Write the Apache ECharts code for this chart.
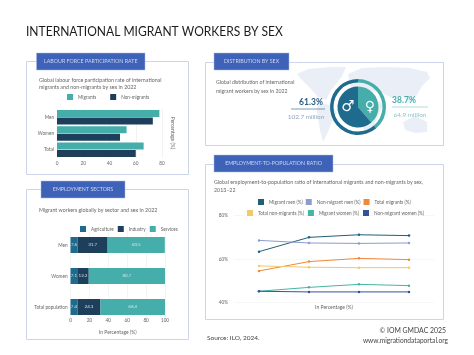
<!DOCTYPE html>
<html>
<head>
<meta charset="utf-8">
<style>
  html, body { margin: 0; padding: 0; background: #fff; }
  #chart { width: 474px; height: 355px; }
</style>
<script src="https://cdn.jsdelivr.net/npm/echarts@6/dist/echarts.min.js"></script>
</head>
<body>
<div id="chart"></div>
<script>
// labour force participation
const lfprCategories = ['Men', 'Women', 'Total']
const lfprMigrants = [78, 53, 66]
const lfprNonMigrants = [73, 48, 60]

// employment sectors
const sectorCategories = ['Men', 'Women', 'Total population']
const sectorAgriculture = [7.6, 7.1, 7.4]
const sectorIndustry = [31.7, 12.2, 24.3]
const sectorServices = [60.5, 80.7, 68.4]

// distribution by sex
const sexNames = ['Women', 'Men']
const sexShares = [38.7, 61.3]

// employment-to-population ratio (year labels are not printed in the picture)
const ratioYears = ['2013', '2016', '2019', '2022']
const migrantMen = [63.4, 70, 71.2, 70.8]
const nonMigrantMen = [68.6, 67.4, 67.2, 67.4]
const totalMigrants = [54.5, 58.8, 60.3, 59.7]
const totalNonMigrants = [56.8, 56.2, 56, 56]
const migrantWomen = [45.1, 46.9, 48.3, 47.7]
const nonMigrantWomen = [45.1, 44.8, 44.8, 44.8]

const FONT = 'Lato'
const TEAL = '#45aeaa'
const NAVY = '#1d3f5c'
const BLUE = '#1f6b8e'
const TAB = '#3f62b9'
const BORDER = '#ccd5ea'
const GREY = '#666'

const panel = (x, y, w, h) => ({
  type: 'rect',
  z: 1,
  shape: { x: x + 0.5, y: y + 0.5, width: w, height: h },
  style: { fill: 'none', stroke: BORDER, lineWidth: 1 },
})
const tab = (x, y, w, h, label) => [
  {
    type: 'rect',
    z: 5,
    shape: { x: x, y: y, width: w, height: h },
    style: { fill: TAB, stroke: '#a9bbe6', lineWidth: 0.5 },
  },
  {
    type: 'text',
    z: 6,
    x: x + w / 2,
    y: y + h / 2,
    style: {
      text: label,
      fill: '#c9d6f2',
      font: '5.3px ' + FONT,
      align: 'center',
      verticalAlign: 'middle',
    },
  },
]
const note = (x, y, text, size, fill, extra) => ({
  type: 'text',
  z: 6,
  x: x,
  y: y,
  style: Object.assign(
    { text: text, fill: fill || GREY, font: (size || 5.3) + 'px ' + FONT, verticalAlign: 'middle' },
    extra || {}
  ),
})
// rough background world map, only decoration
const land = (points) => ({
  type: 'polygon',
  z: 0,
  shape: { points: points },
  style: { fill: '#eaeef6' },
})

const graphic = [
  Object.assign(note(26, 31, 'INTERNATIONAL MIGRANT WORKERS BY SEX', 14, '#1c1c1c'), { scaleX: 0.86 }),

  land([[297, 74], [308, 69], [330, 67], [346, 67], [342, 76], [336, 84], [330, 92], [326, 100], [318, 97], [310, 88], [302, 80]]),
  land([[318, 103], [330, 105], [337, 112], [332, 122], [327, 134], [323, 142], [320, 130], [317, 112]]),
  land([[348, 74], [362, 68], [385, 67], [410, 68], [427, 72], [430, 78], [422, 86], [416, 96], [410, 103], [402, 96], [392, 98], [380, 92], [362, 90], [350, 86]]),
  land([[346, 93], [362, 92], [376, 100], [384, 104], [378, 116], [372, 130], [364, 130], [359, 114], [347, 106]]),
  land([[403, 122], [415, 116], [427, 122], [427, 132], [415, 133], [405, 130]]),

  panel(26, 61, 162, 113),
  ...tab(36.5, 53, 108.5, 17, 'LABOUR FORCE PARTICIPATION RATE'),
  note(39, 80, 'Global labour force participation rate of international'),
  note(39, 87.5, 'migrants and non-migrants by sex in 2022'),
  Object.assign(note(173, 133, 'Percentage (%)', 5, GREY, { align: 'center' }), { rotation: -Math.PI / 2 }),

  panel(26, 189, 162, 150),
  ...tab(41, 181, 84, 17, 'EMPLOYMENT SECTORS'),
  note(39, 210, 'Migrant workers globally by sector and sex in 2022'),

  panel(205, 62, 238, 83),
  ...tab(214, 53, 75, 17, 'DISTRIBUTION BY SEX'),
  note(216, 82, 'Global distribution of international', 5.2),
  note(216, 91, 'migrant workers by sex in 2022', 5.2),
  note(311, 102, '61.3%', 8.5, '#2b5d85', { align: 'center', font: 'bold 8.5px ' + FONT }),
  { type: 'line', z: 6, shape: { x1: 291, y1: 109, x2: 325, y2: 109 }, style: { stroke: '#2b5d85', lineWidth: 0.6 } },
  note(306, 117, '102.7 million', 6.4, '#8fa6bd', { align: 'center' }),
  note(404, 100, '38.7%', 8.5, TEAL, { align: 'center', font: 'bold 8.5px ' + FONT }),
  { type: 'line', z: 6, shape: { x1: 392, y1: 107, x2: 428, y2: 107 }, style: { stroke: '#7fc4c2', lineWidth: 0.6 } },
  note(410, 115, '64.9 million', 6.4, '#8fc4c4', { align: 'center' }),
  note(348, 107, '\u2642', 15, '#fff', { align: 'center', font: '15px "DejaVu Sans"' }),
  note(370, 107, '\u2640', 14, '#fff', { align: 'center', font: '14px "DejaVu Sans"' }),

  panel(205, 164, 238, 155),
  ...tab(214, 155, 119, 17, 'EMPLOYMENT-TO-POPULATION RATIO'),
  note(214, 182, 'Global employment-to-population ratio of international migrants and non-migrants by sex,'),
  note(214, 190, '2013\u201322'),

  note(207, 338, 'Source: ILO, 2024.', 6.5, '#444'),
  note(446, 331, '\u00a9 IOM GMDAC 2025', 6.9, '#444', { align: 'right' }),
  note(448, 341, 'www.migrationdataportal.org', 6.6, '#444', { align: 'right' }),
]

const tickLabel = { color: GREY, fontSize: 4.7, fontFamily: FONT, margin: 3 }
const legendBase = {
  orient: 'horizontal',
  icon: 'rect',
  itemWidth: 6,
  itemHeight: 6,
  selectedMode: false,
  padding: 0,
  textStyle: { color: GREY, fontSize: 4.7, fontFamily: FONT },
}
const sectorLabel = {
  show: true,
  position: 'inside',
  color: '#cfe3e6',
  fontSize: 4.5,
  fontFamily: FONT,
}
const ratioLine = (name, data, color) => ({
  name: name,
  type: 'line',
  xAxisIndex: 2,
  yAxisIndex: 2,
  data: data,
  symbol: 'circle',
  symbolSize: 2.5,
  lineStyle: { color: color, width: 1 },
  itemStyle: { color: color },
})

const chart = echarts.init(document.getElementById('chart'), null, { renderer: 'canvas' })
chart.setOption({
  animation: false,
  backgroundColor: '#fff',
  textStyle: { fontFamily: FONT },
  graphic: graphic,
  legend: [
    Object.assign({}, legendBase, {
      left: 67, top: 94, itemGap: 14,
      data: ['Migrants', 'Non-migrants'],
    }),
    Object.assign({}, legendBase, {
      left: 80, top: 226, itemGap: 4,
      data: ['Agriculture', 'Industry', 'Services'],
    }),
    Object.assign({}, legendBase, {
      left: 258, top: 199, itemGap: 3,
      data: ['Migrant men (%)', 'Non-migrant men (%)', 'Total migrants (%)'],
    }),
    Object.assign({}, legendBase, {
      left: 247, top: 210, itemGap: 4,
      data: ['Total non-migrants (%)', 'Migrant women (%)', 'Non-migrant women (%)'],
    }),
  ],
  grid: [
    { left: 57, top: 109, width: 105, height: 49 },
    { left: 70.5, top: 229.5, width: 94.5, height: 93 },
    { left: 234, top: 215.7, width: 200, height: 86.6 },
  ],
  xAxis: [
    {
      gridIndex: 0,
      type: 'value',
      min: 0,
      max: 80,
      interval: 20,
      axisLine: { show: false },
      axisTick: { show: false },
      axisLabel: tickLabel,
      splitLine: { lineStyle: { color: '#e4e4e4', width: 0.5 } },
    },
    {
      gridIndex: 1,
      type: 'value',
      min: 0,
      max: 100,
      interval: 20,
      name: 'In Percentage (%)',
      nameLocation: 'middle',
      nameGap: 7,
      nameTextStyle: { color: GREY, fontSize: 5 },
      axisLine: { show: false },
      axisTick: { show: false },
      axisLabel: Object.assign({}, tickLabel, { margin: -5 }),
      splitLine: { lineStyle: { color: '#e8e8e8', width: 0.5 } },
    },
    {
      gridIndex: 2,
      type: 'category',
      data: ratioYears,
      name: 'In Percentage (%)',
      nameLocation: 'middle',
      nameGap: 3,
      nameTextStyle: { color: GREY, fontSize: 5 },
      axisLine: { show: false },
      axisTick: { show: false },
      axisLabel: { show: false },
    },
  ],
  yAxis: [
    {
      gridIndex: 0,
      type: 'category',
      inverse: true,
      data: lfprCategories,
      axisLine: { show: false },
      axisTick: { show: false },
      axisLabel: tickLabel,
    },
    {
      gridIndex: 1,
      type: 'category',
      inverse: true,
      data: sectorCategories,
      axisLine: { show: false },
      axisTick: { show: false },
      axisLabel: tickLabel,
    },
    {
      gridIndex: 2,
      type: 'value',
      min: 40,
      max: 80,
      interval: 20,
      axisLine: { show: false },
      axisTick: { show: false },
      axisLabel: Object.assign({}, tickLabel, { formatter: '{value}%', margin: 6 }),
      splitLine: { lineStyle: { color: '#eeeeee', width: 0.5 } },
    },
  ],
  series: [
    {
      name: 'Migrants',
      type: 'bar',
      xAxisIndex: 0,
      yAxisIndex: 0,
      data: lfprMigrants,
      barWidth: 7,
      barGap: '8%',
      itemStyle: { color: TEAL },
    },
    {
      name: 'Non-migrants',
      type: 'bar',
      xAxisIndex: 0,
      yAxisIndex: 0,
      data: lfprNonMigrants,
      barWidth: 7,
      barGap: '8%',
      itemStyle: { color: NAVY },
    },
    {
      name: 'Agriculture',
      type: 'bar',
      stack: 'sector',
      xAxisIndex: 1,
      yAxisIndex: 1,
      data: sectorAgriculture,
      barWidth: 16,
      itemStyle: { color: BLUE },
      label: sectorLabel,
    },
    {
      name: 'Industry',
      type: 'bar',
      stack: 'sector',
      xAxisIndex: 1,
      yAxisIndex: 1,
      data: sectorIndustry,
      barWidth: 16,
      itemStyle: { color: NAVY },
      label: sectorLabel,
    },
    {
      name: 'Services',
      type: 'bar',
      stack: 'sector',
      xAxisIndex: 1,
      yAxisIndex: 1,
      data: sectorServices,
      barWidth: 16,
      itemStyle: { color: TEAL },
      label: sectorLabel,
    },
    ratioLine('Migrant men (%)', migrantMen, '#1f5f78'),
    ratioLine('Non-migrant men (%)', nonMigrantMen, '#8c9ccf'),
    ratioLine('Total migrants (%)', totalMigrants, '#ee8a3a'),
    ratioLine('Total non-migrants (%)', totalNonMigrants, '#f3c86a'),
    ratioLine('Migrant women (%)', migrantWomen, '#45b5a5'),
    ratioLine('Non-migrant women (%)', nonMigrantWomen, '#34529b'),
    {
      type: 'pie',
      center: [358, 107],
      radius: [24.5, 28],
      startAngle: 90,
      silent: true,
      label: { show: false },
      labelLine: { show: false },
      color: [TEAL, BLUE],
      data: sexNames.map((name, i) => ({ name: name, value: sexShares[i] })),
    },
    {
      type: 'pie',
      center: [358, 107],
      radius: [0, 20.5],
      startAngle: 90,
      silent: true,
      label: { show: false },
      labelLine: { show: false },
      color: [TEAL, BLUE],
      data: sexNames.map((name, i) => ({ name: name, value: sexShares[i] })),
    },
  ],
})
</script>
</body>
</html>
